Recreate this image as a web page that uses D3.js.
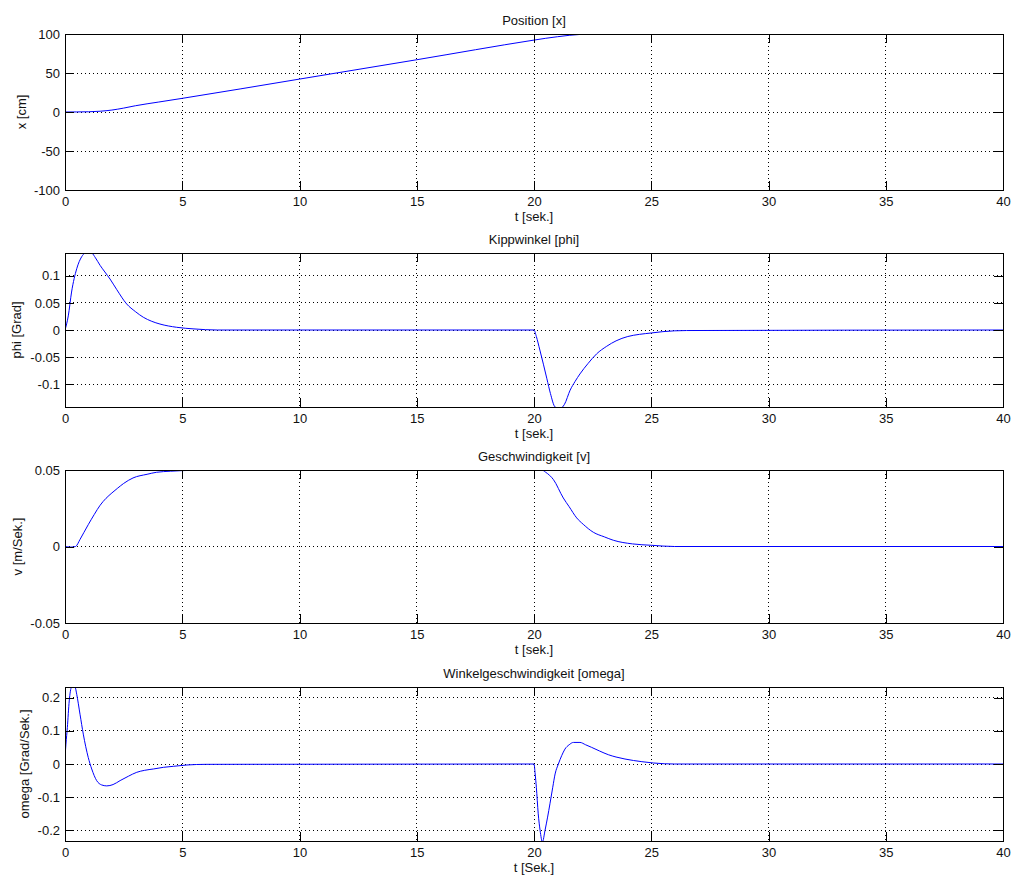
<!DOCTYPE html>
<html>
<head>
<meta charset="utf-8">
<script src="https://cdn.jsdelivr.net/npm/d3@7"></script>
<style>
  body { margin: 0; background: #fff; }
  text { font-family: Arial, "Liberation Sans", sans-serif; font-size: 13px; fill: #111; }
  .grid line { stroke: #000; stroke-dasharray: 1,3; shape-rendering: crispEdges; }
  .tk line { stroke: #000; shape-rendering: crispEdges; }
  .frame { fill: none; stroke: #000; shape-rendering: crispEdges; }
</style>
</head>
<body>
<svg id="chart" width="1013" height="879"></svg>
<script>
// ---------------- data ----------------
var timeTicks = [0, 5, 10, 15, 20, 25, 30, 35, 40];

// Position [x]
var tPos   = [0, 0.5, 1, 1.5, 2, 2.5, 3, 4, 5, 10, 15, 20, 20.5, 21, 21.5, 22, 22.5, 23, 40];
var posVal = [0, 0.1, 0.3, 1, 2.5, 5, 8, 12.8, 17.5, 42.2, 67, 92.2, 94.5, 96.5, 98.3, 99.5, 100, 100, 100];
var posTicks = [-100, -50, 0, 50, 100];

// Kippwinkel [phi]
var tPhi   = [0, 0.14, 0.28, 0.5, 0.71, 0.85, 1, 1.15, 1.3, 1.5, 1.7, 1.92, 2.2, 2.63, 3, 3.34, 3.7, 4.05, 4.76, 5.5, 6.5,
              20, 20.1, 20.25, 20.4, 20.55, 20.7, 20.9, 21.1, 21.3, 21.54, 21.75, 21.96, 22.3, 22.67, 23.1, 23.5, 24, 24.5, 25, 25.5, 26.5, 40];
var phiVal = [0, 0.026, 0.07, 0.113, 0.135, 0.142, 0.145, 0.142, 0.133, 0.119, 0.107, 0.094, 0.075, 0.048, 0.034, 0.0235, 0.016, 0.011, 0.005, 0.002, 0,
              0, -0.012, -0.037, -0.063, -0.09, -0.117, -0.142, -0.145, -0.137, -0.111, -0.095, -0.081, -0.062, -0.044, -0.03, -0.02, -0.012, -0.008, -0.0055, -0.003, -0.001, 0];
var phiTicks = [-0.1, -0.05, 0, 0.05, 0.1];

// Geschwindigkeit [v]
var tVel   = [0, 0.25, 0.45, 0.64, 0.8, 1, 1.25, 1.5, 1.75, 2, 2.25, 2.5, 2.9, 3.5, 3.9, 4.5, 5, 5.5, 6,
              20, 20.33, 20.5, 20.83, 21.25, 21.5, 21.82, 22.1, 22.53, 23, 23.38, 24.2, 25, 26, 40];
var velVal = [0, -0.0004, 0, 0.0046, 0.009, 0.0145, 0.021, 0.027, 0.0315, 0.0350, 0.0382, 0.0412, 0.0448, 0.0472, 0.0485, 0.0492, 0.0496, 0.0498, 0.05,
              0.05, 0.05, 0.0485, 0.0437, 0.0317, 0.026, 0.0187, 0.0145, 0.0093, 0.0063, 0.0041, 0.0017, 0.0008, 0, 0];
var velTicks = [-0.05, 0, 0.05];

// Winkelgeschwindigkeit [omega]
var tOm   = [0, 0.04, 0.1, 0.18, 0.28, 0.36, 0.43, 0.5, 0.64, 0.78, 0.99, 1.14, 1.35, 1.56, 1.78, 2.05, 2.35, 2.7, 3.06, 3.4, 3.77, 4.2, 4.62, 5.2, 6,
             20, 20.05, 20.1, 20.18, 20.26, 20.36, 20.47, 20.58, 20.68, 20.8, 20.9, 21.04, 21.18, 21.32, 21.5, 21.68, 21.96, 22.2, 22.46, 22.8, 23.17, 23.5, 23.88, 24.6, 25.1, 26, 40];
var omVal = [0.02, 0.06, 0.11, 0.19, 0.232, 0.235, 0.232, 0.21, 0.15, 0.09, 0.02, -0.015, -0.05, -0.063, -0.066, -0.062, -0.05, -0.037, -0.025, -0.019, -0.015, -0.01, -0.007, -0.003, -0.001,
             0, -0.03, -0.07, -0.15, -0.2, -0.235, -0.2, -0.16, -0.12, -0.07, -0.03, 0, 0.025, 0.045, 0.058, 0.065, 0.065, 0.058, 0.05, 0.039, 0.028, 0.021, 0.015, 0.007, 0.003, 0, 0];
var omTicks = [-0.2, -0.1, 0, 0.1, 0.2];

var titles  = ["Position [x]", "Kippwinkel [phi]", "Geschwindigkeit [v]", "Winkelgeschwindigkeit [omega]"];
var ylabels = ["x [cm]", "phi [Grad]", "v [m/Sek.]", "omega [Grad/Sek.]"];
var xlabels = ["t [sek.]", "t [sek.]", "t [sek.]", "t [Sek.]"];

// ---------------- layout ----------------
var left = 65, right = 1003;
var tops    = [34, 253, 470, 687];
var bottoms = [190, 407, 623, 841];
var ylabX   = [26, 21, 22, 29];   // baseline x of rotated y labels

var panels = [
  { t: tPos, v: posVal, dom: [-100, 100],      ticks: posTicks },
  { t: tPhi, v: phiVal, dom: [-0.142, 0.142],  ticks: phiTicks },
  { t: tVel, v: velVal, dom: [-0.05, 0.05],    ticks: velTicks },
  { t: tOm,  v: omVal,  dom: [-0.232, 0.232],  ticks: omTicks }
];

var svg = d3.select("#chart");
var x = d3.scaleLinear().domain([0, 40]).range([left, right]);

panels.forEach(function(p, i) {
  var top = tops[i], bot = bottoms[i];
  var y = d3.scaleLinear().domain(p.dom).range([bot, top]);
  var g = svg.append("g");

  // clip
  g.append("clipPath").attr("id", "clip" + i)
    .append("rect").attr("x", left).attr("y", top).attr("width", right - left).attr("height", bot - top);

  // grid
  var grid = g.append("g").attr("class", "grid");
  grid.selectAll(".gx").data(timeTicks).enter().append("line")
    .attr("x1", function(d) { return x(d); }).attr("x2", function(d) { return x(d); })
    .attr("y1", top).attr("y2", bot);
  grid.selectAll(".gy").data(p.ticks).enter().append("line")
    .attr("x1", left).attr("x2", right)
    .attr("y1", function(d) { return y(d); }).attr("y2", function(d) { return y(d); });

  // curve
  var pts = p.t.map(function(t, k) { return [t, p.v[k]]; });
  g.append("path")
    .attr("clip-path", "url(#clip" + i + ")")
    .attr("d", d3.line().curve(d3.curveMonotoneX)
      .x(function(d) { return x(d[0]); }).y(function(d) { return y(d[1]); })(pts))
    .attr("fill", "none").attr("stroke", "#0000ff").attr("stroke-width", 1);

  // axes (ticks inward on all sides)
  var fmt = function(d) { return String(d); };
  var ax = g.append("g").attr("class", "tk").attr("transform", "translate(0," + bot + ")")
    .call(d3.axisBottom(x).tickValues(timeTicks).tickFormat(fmt).tickSizeInner(-9).tickSizeOuter(0).tickPadding(7));
  var axt = g.append("g").attr("class", "tk").attr("transform", "translate(0," + top + ")")
    .call(d3.axisTop(x).tickValues(timeTicks).tickFormat("").tickSizeInner(-9).tickSizeOuter(0));
  var ay = g.append("g").attr("class", "tk").attr("transform", "translate(" + left + ",0)")
    .call(d3.axisLeft(y).tickValues(p.ticks).tickFormat(fmt).tickSizeInner(-9).tickSizeOuter(0).tickPadding(5));
  var ayr = g.append("g").attr("class", "tk").attr("transform", "translate(" + right + ",0)")
    .call(d3.axisRight(y).tickValues(p.ticks).tickFormat("").tickSizeInner(-9).tickSizeOuter(0));
  [ax, axt, ay, ayr].forEach(function(a) {
    a.select(".domain").remove();
    a.selectAll("text").attr("fill", "#111").style("font-size", "13px").style("font-family", "Arial, 'Liberation Sans', sans-serif");
  });

  g.append("rect").attr("class", "frame")
    .attr("x", left).attr("y", top).attr("width", right - left).attr("height", bot - top);

  // texts
  g.append("text").attr("x", (left + right) / 2).attr("y", top - 9)
    .attr("text-anchor", "middle").text(titles[i]);
  g.append("text").attr("x", (left + right) / 2).attr("y", bot + 31)
    .attr("text-anchor", "middle").text(xlabels[i]);
  g.append("text")
    .attr("transform", "translate(" + ylabX[i] + "," + (top + bot) / 2 + ") rotate(-90)")
    .attr("text-anchor", "middle").text(ylabels[i]);
});
</script>
</body>
</html>
